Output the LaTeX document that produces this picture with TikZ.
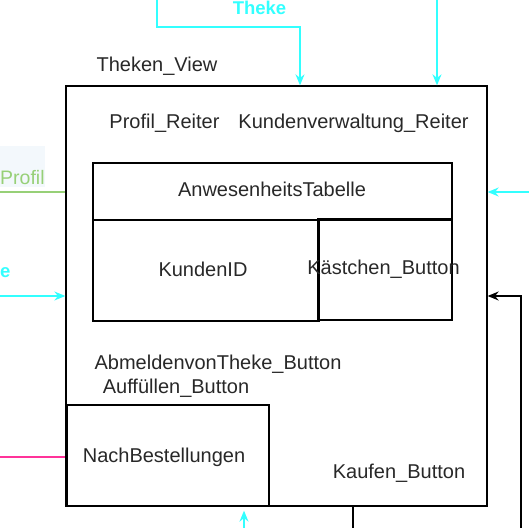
\documentclass[tikz,border=0pt]{standalone}
\usepackage{fontspec}
\setmainfont{Liberation Sans}
\usetikzlibrary{arrows.meta}
\definecolor{cyn}{RGB}{51,255,255}
\definecolor{grn}{RGB}{151,208,119}
\definecolor{pnk}{RGB}{255,51,153}
\definecolor{txt}{RGB}{40,40,40}
\definecolor{lbg}{RGB}{243,248,252}
\tikzset{
  box/.style={draw=black, line width=1.3bp, inner sep=0pt, rectangle},
  lbl/.style={anchor=base, inner sep=0pt, text=txt, font=\fontsize{20bp}{22bp}\selectfont},
  clbl/.style={anchor=base, inner sep=0pt, font=\bfseries\fontsize{18.5bp}{22bp}\selectfont},
  tip/.style={-{Stealth[length=11bp,width=9bp]}},
  cline/.style={draw=cyn, line width=1.3bp},
}
\begin{document}
\begin{tikzpicture}[x=1bp,y=-1bp]
\useasboundingbox (0,0) rectangle (529,528);
% boxes
\node[box, minimum width=421bp, minimum height=420bp] (view) at (276.5,296) {};
\node[box, minimum width=359bp, minimum height=57bp] (tab) at (272.5,191.5) {};
\node[box, minimum width=226bp, minimum height=101bp] (kid) at (206,270.5) {};
\node[box, minimum width=134bp, minimum height=101bp] (kae) at (385,269.5) {};
\node[box, minimum width=202bp, minimum height=101bp] (nach) at (168,455.5) {};
% texts
\node[lbl] (tv) at (157,72) {Theken\_View};
\node[lbl] (pr) at (164.5,129) {Profil\_Reiter};
\node[lbl] (kr) at (353.5,129) {Kundenverwaltung\_Reiter};
\node[lbl] (at) at (272,197) {AnwesenheitsTabelle};
\node[lbl] (kt) at (203,276) {KundenID};
\node[lbl] (kb) at (383.5,274) {Kästchen\_Button};
\node[lbl] (ab) at (218,369) {AbmeldenvonTheke\_Button};
\node[lbl] (au) at (176,393) {Auffüllen\_Button};
\node[lbl] (nb) at (164,462) {NachBestellungen};
\node[lbl] (kf) at (399,478) {Kaufen\_Button};
% side labels
\fill[lbg] (0,146) rectangle (45,187);
\node[clbl, text=grn, font=\fontsize{19.5bp}{22bp}\selectfont, anchor=base west] (pf) at (0,185) {Profil};
\node[clbl, text=cyn, anchor=base west] (ee) at (0,277) {e};
\node[clbl, text=cyn] (th) at (259.5,15) {Theke};
% connector ends
\coordinate (t1) at (157,0);
\coordinate (t1b) at (300,0);
\coordinate (t2) at (437,0);
\coordinate (l1) at (0,192);
\coordinate (l2) at (0,296);
\coordinate (l3) at (0,457);
\coordinate (r1) at (529,192);
\coordinate (r2) at (521,528);
\coordinate (b1) at (244,528);
\coordinate (b2) at (353,528);
% connectors
\draw[cline, tip] (t1) -- ++(0,27) -| (view.north -| t1b);
\draw[cline, tip] (t2) -- (view.north -| t2);
\draw[draw=grn, line width=1.3bp] (l1) -- (view.west |- l1);
\draw[cline, tip] (l2) -- (view.west |- l2);
\draw[draw=pnk, line width=1.3bp] (l3) -- (view.west |- l3);
\draw[cline, tip] (r1) -- (view.east |- r1);
\draw[draw=black, line width=1.3bp, tip] (r2) |- (view.east);
\draw[cline, tip] (b1) -- ([yshift=-4bp]view.south -| b1);
\draw[draw=black, line width=1.3bp] (view.south -| b2) -- (b2);
\end{tikzpicture}
\end{document}
